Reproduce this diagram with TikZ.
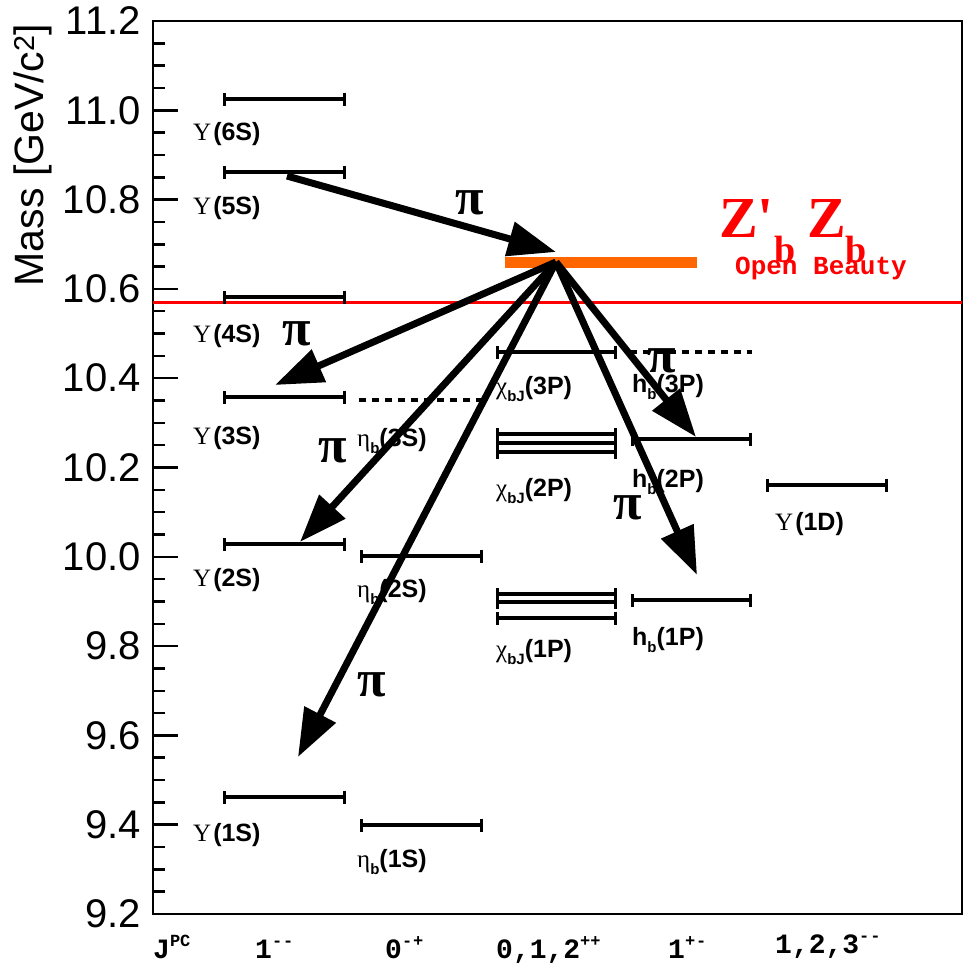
\documentclass[tikz,border=0pt]{standalone}
\usepackage{fontspec}
\setmainfont{Liberation Sans}
\newfontfamily\serifg{Liberation Serif}
\newfontfamily\monof{Liberation Mono}
\usetikzlibrary{arrows.meta}
\definecolor{zorange}{RGB}{255,102,0}
\definecolor{zred}{RGB}{255,0,0}
\newcommand\lsub[1]{\raisebox{-7pt}{\fontsize{15}{15}\selectfont\bfseries #1}}
\newcommand\Ups{{\serifg Υ}\kern2pt}
\newcommand\msup[1]{\raisebox{12pt}{\fontsize{17}{17}\selectfont #1}}
\newcommand\mm{-\kern1pt-}
\begin{document}
\begin{tikzpicture}[x=1pt,y=-1pt,
  lvl/.style={line width=3.5pt,{Bar[width=13pt,line width=3pt]}-{Bar[width=13pt,line width=3pt]}},
  dlvl/.style={line width=3.5pt,dash pattern=on 7pt off 6pt},
  pia/.style={line width=7pt,-{Triangle[length=48pt,width=34pt]}},
  pil/.style={inner sep=0pt,font=\serifg\bfseries\fontsize{52}{52}\selectfont},
  lab/.style={anchor=base west,inner sep=0pt,font=\fontsize{25}{25}\selectfont},
  tlab/.style={anchor=east,inner sep=0pt,font=\fontsize{40}{40}\selectfont},
  jlab/.style={anchor=base west,inner sep=0pt,font=\monof\bfseries\fontsize{28}{28}\selectfont},
]
\useasboundingbox (0,0) rectangle (965,970);
% frame and ticks
\draw[line width=2.5pt] (153,21) rectangle (962,914);
\foreach \i in {0,...,39} {
  \pgfmathsetmacro\yy{21+\i*22.325}
  \draw[line width=2.5pt] (153,\yy) -- ++(12,0);
}
\foreach \v [count=\i from 0] in {11.2,11.0,10.8,10.6,10.4,10.2,10.0,9.8,9.6,9.4,9.2} {
  \pgfmathsetmacro\yy{21+\i*89.3}
  \draw[line width=2.5pt] (153,\yy) -- ++(25,0);
  \node[tlab] (t\i) at (141,\yy) {\v};
}
\node[rotate=90,inner sep=0pt,font=\fontsize{41}{41}\selectfont] (ytitle) at (33,155) {Mass [GeV/c\textsuperscript{2}]};
% J^PC row
\node[jlab] (jpc) at (153,958) {J\msup{PC}};
\node[jlab] (j1) at (255,958) {1\msup{\mm}};
\node[jlab] (j2) at (385,958) {0\msup{-\kern1pt+}};
\node[jlab] (j3) at (496,958) {0,1,2\msup{++}};
\node[jlab] (j4) at (668,958) {1\msup{+\kern1pt-}};
\node[jlab] (j5) at (775,953) {1,2,3\msup{\mm}};
% threshold and Z_b
\draw[zred,line width=3pt] (153,302) -- (962,302);
\draw[zorange,line width=11pt] (505,262) -- (697,262);
\node[anchor=base west,inner sep=0pt,text=zred,font=\serifg\bfseries\fontsize{58}{58}\selectfont] (zb) at (719,237)
  {Z'\raisebox{-25pt}{\fontsize{38}{38}\selectfont b}\kern12pt Z\raisebox{-25pt}{\fontsize{38}{38}\selectfont b}};
\node[inner sep=0pt,text=zred,font=\monof\bfseries\fontsize{26}{26}\selectfont] (ob) at (821,268) {Open Beauty};
% Upsilon levels
\foreach \yy in {99,172,297,397,544,797} \draw[lvl] (223,\yy) -- (346,\yy);
\node[lab] (u6) at (193,140) {\Ups\textbf{(6S)}};
\node[lab] (u5) at (193,214) {\Ups\textbf{(5S)}};
\node[lab] (u4) at (193,342) {\Ups\textbf{(4S)}};
\node[lab] (u3) at (193,444) {\Ups\textbf{(3S)}};
\node[lab] (u2) at (193,586) {\Ups\textbf{(2S)}};
\node[lab] (u1) at (193,841) {\Ups\textbf{(1S)}};
% eta_b
\draw[dlvl] (359,400) -- (483,400);
\draw[lvl] (360,556) -- (483,556);
\draw[lvl] (360,825) -- (483,825);
\node[lab] (e3) at (357,446) {{\serifg η}\lsub{b}\textbf{(3S)}};
\node[lab] (e2) at (357,597) {{\serifg η}\lsub{b}\textbf{(2S)}};
\node[lab] (e1) at (357,867) {{\serifg η}\lsub{b}\textbf{(1S)}};
% chi_bJ
\draw[lvl] (496,352) -- (617,352);
\foreach \yy in {434,443,452,594,602,618} \draw[lvl] (496,\yy) -- (617,\yy);
\node[lab] (c3) at (496,394) {{\serifg χ}\lsub{bJ}\textbf{(3P)}};
\node[lab] (c2) at (496,496) {{\serifg χ}\lsub{bJ}\textbf{(2P)}};
\node[lab] (c1) at (496,657) {{\serifg χ}\lsub{bJ}\textbf{(1P)}};
% h_b
\draw[dlvl] (630,352) -- (752,352);
\draw[lvl] (631,439) -- (752,439);
\draw[lvl] (631,600) -- (752,600);
\node[lab] (h3) at (632,392) {\textbf{h}\lsub{b}\textbf{(3P)}};
\node[lab] (h2) at (632,487) {\textbf{h}\lsub{b}\textbf{(2P)}};
\node[lab] (h1) at (632,645) {\textbf{h}\lsub{b}\textbf{(1P)}};
% Upsilon(1D)
\draw[lvl] (766,485) -- (888,485);
\node[lab] (d1) at (775,530) {\Ups\textbf{(1D)}};
% transitions
\coordinate (apex) at (556,262);
\coordinate (s5) at (287,176);
\coordinate (e5) at (556,252);
\coordinate (t3s) at (275,385);
\coordinate (t2s) at (300,542);
\coordinate (t1s) at (298,757);
\coordinate (t2p) at (696,437);
\coordinate (t1p) at (697,575);
\draw[pia] (s5) -- (e5);
\draw[pia] (apex) -- (t3s);
\draw[pia] (apex) -- (t2s);
\draw[pia] (apex) -- (t1s);
\draw[pia] (apex) -- (t2p);
\draw[pia] (apex) -- (t1p);
\node[pil] (p1) at (470,203) {π};
\node[pil] (p2) at (297,334) {π};
\node[pil] (p3) at (333,451) {π};
\node[pil] (p4) at (372,685) {π};
\node[pil] (p5) at (662,361) {π};
\node[pil] (p6) at (628,508) {π};
\end{tikzpicture}
\end{document}
